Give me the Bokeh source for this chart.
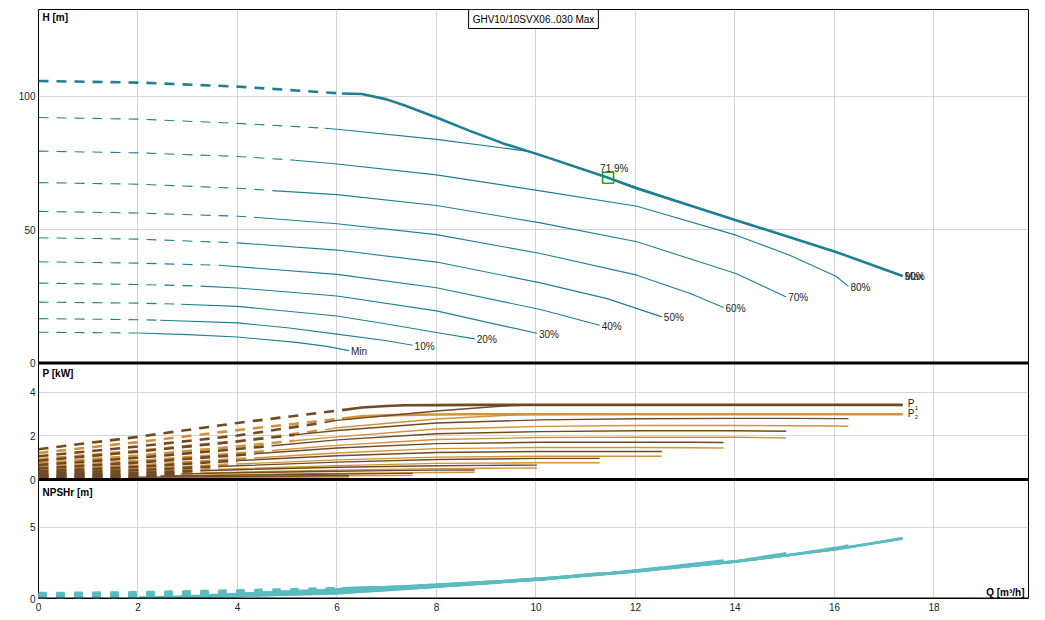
from bokeh.plotting import figure
from bokeh.models import Range1d, FixedTicker, Span, Label
from bokeh.embed import file_html
from bokeh.resources import INLINE
from bokeh.core.properties import value

# ---------------- data ----------------
speed_labels = ["Max", "90%", "80%", "70%", "60%", "50%", "40%", "30%", "20%", "10%", "Min"]

# index of the first point of the solid (allowed) part of each curve
solid_from = [3, 3, 3, 3, 3, 2, 2, 2, 2, 2, 1]

flow_pts = [
    [0, 2, 4, 6.1, 6.5, 7.0, 7.35, 8, 8.67, 9.34, 10.09, 11.45, 12.03, 14.02, 16.03, 17.37],
    [0, 2, 4, 5.75, 6, 8, 9.34, 9.85, 11.45, 14.02, 16.03, 17.37],
    [0, 2, 4, 5.15, 6, 8, 10.09, 12.03, 14.02, 15.1, 16.03, 16.28],
    [0, 2, 4, 4.7, 6, 8, 10.09, 12.03, 14.02, 15.03],
    [0, 2, 4, 4.33, 6, 8, 10.09, 12.03, 13.1, 13.77],
    [0, 2, 4, 6, 8, 10.09, 11.43, 12.53],
    [0, 2, 3.63, 6, 8, 10.09, 11.28],
    [0, 2, 3.26, 4, 6, 8, 9, 10.02],
    [0, 2, 2.86, 4, 6, 7, 8, 8.77],
    [0, 2, 2.45, 4, 5, 6, 7, 7.52],
    [0, 2.02, 3, 4, 5.18, 5.8, 6.24],
]

head_pts = [
    [105.7, 105.1, 103.6, 101.0, 100.8, 98.8, 96.6, 92.0, 87.0, 82.3, 77.9, 69.4, 65.4, 53.5, 41.6, 32.6],
    [92.0, 91.4, 89.8, 88.0, 87.6, 83.8, 80.6, 79.3, 69.4, 53.5, 41.6, 32.6],
    [79.4, 78.75, 77.4, 76.0, 74.6, 70.5, 64.5, 58.75, 47.9, 40.4, 32.5, 28.7],
    [67.6, 67.0, 65.5, 64.6, 63.1, 59.0, 52.5, 45.4, 33.5, 24.75],
    [56.8, 56.2, 55.0, 54.6, 52.2, 48.1, 41.0, 32.9, 26.0, 20.75],
    [46.9, 46.4, 45.0, 42.3, 37.8, 30.0, 24.1, 17.25],
    [37.9, 37.4, 36.6, 33.2, 28.2, 20.0, 14.1],
    [29.9, 29.4, 28.8, 28.1, 25.1, 19.5, 15.3, 11.1],
    [22.8, 22.4, 22.0, 21.2, 17.6, 14.6, 11.4, 9.0],
    [16.6, 16.2, 16.0, 15.0, 13.2, 10.8, 8.3, 6.6],
    [11.5, 11.2, 10.6, 9.7, 7.7, 6.2, 4.6],
]

p1_pts = [
    [1.39, 1.96, 2.60, 3.19, 3.31, 3.38, 3.41, 3.42, 3.43, 3.43, 3.43, 3.43, 3.43, 3.43, 3.43, 3.43],
    [1.07, 1.52, 2.02, 2.62, 2.72, 3.15, 3.38, 3.42, 3.43, 3.43, 3.43, 3.43],
    [0.86, 1.28, 1.75, 2.05, 2.25, 2.60, 2.74, 2.79, 2.81, 2.81, 2.80, 2.80],
    [0.66, 1.00, 1.40, 1.55, 1.82, 2.10, 2.20, 2.24, 2.24, 2.22],
    [0.50, 0.78, 1.12, 1.18, 1.45, 1.65, 1.71, 1.72, 1.71, 1.70],
    [0.37, 0.58, 0.87, 1.09, 1.24, 1.29, 1.29, 1.29],
    [0.27, 0.43, 0.60, 0.80, 0.92, 0.97, 0.97],
    [0.19, 0.31, 0.40, 0.45, 0.56, 0.63, 0.65, 0.66],
    [0.13, 0.21, 0.26, 0.31, 0.38, 0.41, 0.43, 0.44],
    [0.09, 0.14, 0.16, 0.20, 0.23, 0.25, 0.27, 0.28],
    [0.06, 0.10, 0.12, 0.14, 0.16, 0.17, 0.17],
]

p2_pts = [
    [1.22, 1.72, 2.27, 2.80, 2.90, 2.95, 2.97, 2.99, 3.0, 3.0, 3.0, 3.0, 3.0, 3.0, 3.0, 3.0],
    [0.93, 1.32, 1.76, 2.28, 2.38, 2.78, 2.94, 2.98, 3.0, 3.0, 3.0, 3.0],
    [0.74, 1.10, 1.52, 1.78, 1.96, 2.32, 2.44, 2.48, 2.48, 2.47, 2.46, 2.45],
    [0.56, 0.85, 1.20, 1.33, 1.57, 1.84, 1.93, 1.95, 1.94, 1.91],
    [0.42, 0.65, 0.94, 0.99, 1.22, 1.42, 1.47, 1.47, 1.46, 1.45],
    [0.30, 0.47, 0.71, 0.90, 1.03, 1.07, 1.07, 1.07],
    [0.20, 0.33, 0.47, 0.64, 0.74, 0.77, 0.77],
    [0.13, 0.23, 0.30, 0.34, 0.43, 0.50, 0.52, 0.53],
    [0.08, 0.14, 0.18, 0.22, 0.28, 0.30, 0.32, 0.33],
    [0.05, 0.09, 0.10, 0.13, 0.15, 0.17, 0.18, 0.19],
    [0.03, 0.06, 0.07, 0.09, 0.10, 0.11, 0.11],
]

npsh_pts = [
    [0.36, 0.42, 0.55, 0.72, 0.76, 0.80, 0.84, 0.98, 1.10, 1.23, 1.40, 1.75, 1.95, 2.60, 3.45, 4.22],
    [0.33, 0.38, 0.50, 0.62, 0.64, 0.95, 1.22, 1.33, 1.75, 2.60, 3.45, 4.22],
    [0.30, 0.34, 0.44, 0.52, 0.60, 0.92, 1.36, 1.92, 2.58, 3.05, 3.55, 3.71],
    [0.27, 0.30, 0.40, 0.45, 0.58, 0.90, 1.34, 1.90, 2.62, 3.17],
    [0.24, 0.27, 0.37, 0.40, 0.56, 0.88, 1.33, 1.95, 2.40, 2.67],
    [0.21, 0.23, 0.33, 0.55, 0.86, 1.34, 1.75, 2.18],
    [0.18, 0.20, 0.28, 0.50, 0.84, 1.36, 1.76],
    [0.15, 0.17, 0.22, 0.27, 0.45, 0.82, 1.05, 1.40],
    [0.12, 0.13, 0.16, 0.22, 0.40, 0.58, 0.82, 1.05],
    [0.09, 0.10, 0.11, 0.18, 0.26, 0.36, 0.62, 0.80],
    [0.06, 0.07, 0.11, 0.18, 0.32, 0.43, 0.55],
]

duty_q = [11.45]
duty_h = [69.4]
duty_label = ["71.9%"]

title_text = "GHV10/10SVX06..030 Max"
x_ticks = [0, 2, 4, 6, 8, 10, 12, 14, 16, 18]
h_ticks = [0, 50, 100]
p_ticks = [0, 2, 4]
n_ticks = [0, 5]
h_top, p_top, n_top = 132.5, 5.36, 8.35

# ---------------- styling / layout ----------------
FONT = "Liberation Sans"
H_COL = "#1f7f93"
P1_COL = "#6e4a25"
P2_COL = "#d4913a"
N_COL = "#5bbcc0"
GRID_COL = "#d4d4d4"
TXT_COL = "#222222"

FW = 990                                  # frame width in px
H_PX, P_PX, N_PX = 353.4, 116.6, 119.0    # pixel height of each panel band
FH = H_PX + P_PX + N_PX                   # 589 px

# each panel gets its own range, chosen so that it fills its own band of the frame
h_per = h_top / H_PX
p_per = p_top / P_PX
n_per = n_top / N_PX
h_range = Range1d(-(P_PX + N_PX) * h_per, h_top)
p_range = Range1d(-N_PX * p_per, -N_PX * p_per + FH * p_per)
n_range = Range1d(0, FH * n_per)


def to_main(v, rng):
    """Position of value v of range rng on the main (NPSH) range."""
    return round(n_range.start + (v - rng.start) * (n_range.end - n_range.start)
                 / (rng.end - rng.start), 6)


tick_pos, tick_txt = [], {}
for rng, ticks in ((h_range, h_ticks), (p_range, p_ticks), (n_range, n_ticks)):
    for t in ticks:
        pos = to_main(t, rng)
        tick_pos.append(pos)
        tick_txt[pos] = str(t)

p = figure(width=38 + FW + 7, height=9 + int(FH) + 18,
           x_range=Range1d(0, 19.9), y_range=n_range,
           output_backend="svg", toolbar_location=None,
           min_border_left=38, min_border_right=7, min_border_top=9, min_border_bottom=18)
p.extra_y_ranges = {"h": h_range, "p": p_range}
p.background_fill_color = "white"
p.border_fill_color = "white"
p.outline_line_color = "black"
p.outline_line_width = 1

xax = p.xaxis[0]
xax.ticker = FixedTicker(ticks=x_ticks)
yax = p.yaxis[0]
yax.ticker = FixedTicker(ticks=tick_pos)
yax.major_label_overrides = tick_txt
for ax, standoff in ((xax, 4), (yax, 3)):
    ax.major_tick_out = 0
    ax.major_tick_in = 0
    ax.minor_tick_out = 0
    ax.minor_tick_in = 0
    ax.axis_line_color = None
    ax.major_label_standoff = standoff
    ax.major_label_text_font = FONT
    ax.major_label_text_font_size = "10px"
    ax.major_label_text_color = TXT_COL
p.xgrid.grid_line_color = GRID_COL
p.ygrid.grid_line_color = GRID_COL


def corner_label(text, y, x=4, align="left", baseline="top"):
    p.add_layout(Label(x=x, y=y, x_units="screen", y_units="screen", text=text,
                       text_font=FONT, text_font_size="10px", text_font_style="bold",
                       text_color="black", text_align=align, text_baseline=baseline))


# ---------------- H panel ----------------
for i, lab in enumerate(speed_labels):
    q, h, k = flow_pts[i], head_pts[i], solid_from[i]
    lw = 2.6 if lab == "Max" else 1.1
    p.line(q[:k + 1], h[:k + 1], y_range_name="h", line_color=H_COL, line_width=lw,
           line_dash="10 8")
    p.line(q[k:], h[k:], y_range_name="h", line_color=H_COL, line_width=lw)
ends_q = [q[-1] for q in flow_pts]
ends_h = [h[-1] for h in head_pts]
p.text(ends_q, ends_h, text=speed_labels, y_range_name="h", x_offset=2, y_offset=1,
       text_font=value(FONT), text_font_size="10px", text_color=TXT_COL,
       text_align="left", text_baseline="middle")
p.scatter(duty_q, duty_h, y_range_name="h", marker="square", size=11, fill_color=None,
          line_color="#1fa02a", line_width=1.6)
p.text(duty_q, duty_h, text=duty_label, y_range_name="h", x_offset=-8, y_offset=-9,
       text_font=value(FONT), text_font_size="10px", text_color=TXT_COL,
       text_align="left", text_baseline="alphabetic")
corner_label("H [m]", FH - 2)
p.add_layout(Label(x=FW / 2, y=FH, x_units="screen", y_units="screen", text=title_text,
                   text_font=FONT, text_font_size="10px", text_color="black",
                   text_align="center", text_baseline="top",
                   border_line_color="black", border_line_width=1,
                   background_fill_color="white", padding=4))

# ---------------- P panel ----------------
for i, lab in enumerate(speed_labels):
    q, k = flow_pts[i], solid_from[i]
    for vals, col in ((p2_pts[i], P2_COL), (p1_pts[i], P1_COL)):
        lw = 2.6 if lab == "Max" else 1.4
        p.line(q[:k + 1], vals[:k + 1], y_range_name="p", line_color=col, line_width=2.6,
               line_dash="10 8")
        p.line(q[k:], vals[k:], y_range_name="p", line_color=col, line_width=lw)
p.text([flow_pts[0][-1]] * 2, [p1_pts[0][-1], p2_pts[0][-1]], text=["P", "P"],
       y_range_name="p", x_offset=5, y_offset=-1, text_font=value(FONT),
       text_font_size="10px", text_color=TXT_COL, text_align="left", text_baseline="middle")
p.text([flow_pts[0][-1]] * 2, [p1_pts[0][-1], p2_pts[0][-1]], text=["1", "2"],
       y_range_name="p", x_offset=12, y_offset=3, text_font=value(FONT),
       text_font_size="6px", text_color=TXT_COL, text_align="left", text_baseline="middle")
corner_label("P [kW]", P_PX + N_PX - 4.8)

# ---------------- NPSH panel ----------------
for i, lab in enumerate(speed_labels):
    q, n, k = flow_pts[i], npsh_pts[i], solid_from[i]
    p.line(q[:k + 1], n[:k + 1], line_color=N_COL, line_width=3, line_dash="8 10")
    p.line(q[k:], n[k:], line_color=N_COL, line_width=2.6)
corner_label("NPSHr [m]", N_PX - 7)
corner_label("Q [m³/h]", 6, x=FW - 4, align="right", baseline="middle")

# panel separators
p.add_layout(Span(location=0, dimension="width", y_range_name="h", line_color="black",
                  line_width=3))
p.add_layout(Span(location=0, dimension="width", y_range_name="p", line_color="black",
                  line_width=3))
p.add_layout(Span(location=0, dimension="width", line_color="black", line_width=2))

open("out.html", "w").write(file_html(p, INLINE))
